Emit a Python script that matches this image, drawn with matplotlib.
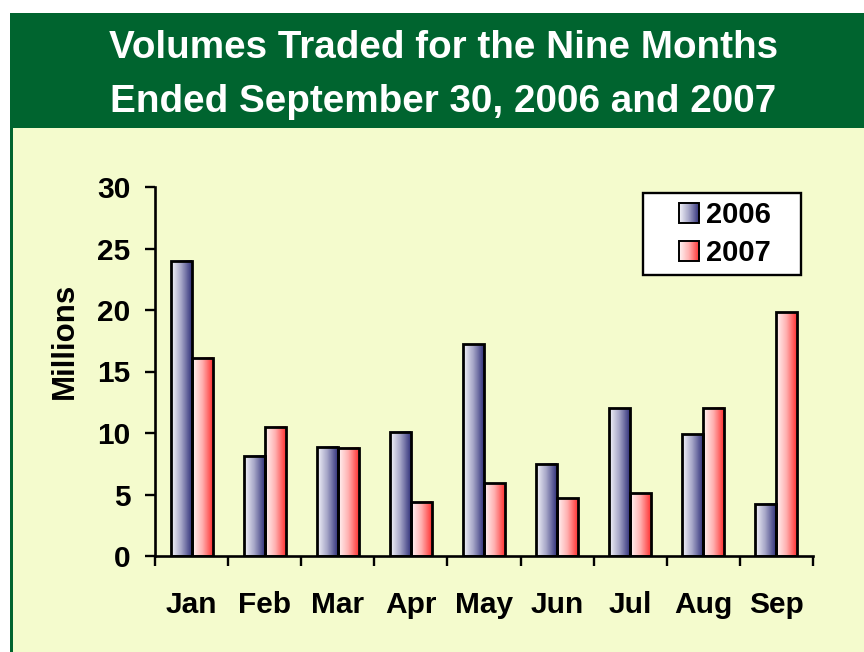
import numpy as np
import matplotlib
matplotlib.use("Agg")
import matplotlib.pyplot as plt
from matplotlib.colors import LinearSegmentedColormap
from matplotlib.patches import Rectangle
from matplotlib.legend_handler import HandlerBase

plt.rcParams['font.family'] = ['Liberation Sans', 'DejaVu Sans']
plt.rcParams['font.weight'] = 'bold'

# data (millions of shares traded)
mesiace = ['Jan', 'Feb', 'Mar', 'Apr', 'May', 'Jun', 'Jul', 'Aug', 'Sep']
objem_2006 = [24.0, 8.15, 8.9, 10.1, 17.2, 7.5, 12.0, 9.9, 4.25]
objem_2007 = [16.1, 10.5, 8.8, 4.4, 5.9, 4.7, 5.1, 12.05, 19.8]
roky = ['2006', '2007']
y_ticky = [0, 5, 10, 15, 20, 25, 30]

ZELENA = '#00642F'
ZLTA = '#F4FBCD'
cm06 = LinearSegmentedColormap.from_list('c06', ['#F6F6FB', '#A4A4C6', '#33337C'])
cm07 = LinearSegmentedColormap.from_list('c07', ['#FFF6F6', '#FFB0B0', '#FF3434'])


class StvorecGradient(HandlerBase):
    # legend square with horizontal gradient, pushed to right side of handle box
    def __init__(self, cmap):
        super().__init__()
        self.cmap = cmap

    def create_artists(self, legend, orig_handle, xdescent, ydescent,
                       width, height, fontsize, trans):
        s = height
        x0 = width - s - xdescent
        y0 = -ydescent
        n = 20
        kusy = []
        for k in range(n):
            kusy.append(Rectangle((x0 + k * s / n, y0), s / n + 0.05, s,
                                  facecolor=self.cmap((k + 0.5) / n),
                                  edgecolor='none', transform=trans))
        kusy.append(Rectangle((x0, y0), s, s, facecolor='none',
                              edgecolor='black', lw=1.4, transform=trans))
        return kusy


fig = plt.figure(figsize=(8.64, 6.52), dpi=100)

# background frame: green header, yellow body, green left edge
fig.patches.append(Rectangle((13 / 864, 0), 1, 1 - 128 / 652, facecolor=ZLTA,
                             edgecolor='none', transform=fig.transFigure, zorder=-10))
fig.patches.append(Rectangle((10 / 864, 1 - 128 / 652), 1, 115 / 652, facecolor=ZELENA,
                             edgecolor='none', transform=fig.transFigure, zorder=-10))
fig.patches.append(Rectangle((10 / 864, 0), 3 / 864, 1 - 13 / 652, facecolor=ZELENA,
                             edgecolor='none', transform=fig.transFigure, zorder=-10))

fig.text(0.513, 1 - 48 / 652, 'Volumes Traded for the Nine Months', color='white',
         fontsize=27.8, fontweight='bold', ha='center', va='center')
fig.text(0.513, 1 - 102 / 652, 'Ended September 30, 2006 and 2007', color='white',
         fontsize=27.8, fontweight='bold', ha='center', va='center')

ax = fig.add_axes([155 / 864, 1 - 556 / 652, 658 / 864, 369 / 652])
ax.set_facecolor('none')

x = np.arange(len(mesiace))
sirka = 0.287
stlpce06 = ax.bar(x - sirka / 2, objem_2006, sirka, facecolor='none',
                  edgecolor='black', linewidth=2.0, zorder=3)
stlpce07 = ax.bar(x + sirka / 2, objem_2007, sirka, facecolor='none',
                  edgecolor='black', linewidth=2.0, zorder=3)

gradient = np.linspace(0, 1, 64).reshape(1, -1)
for stlpce, cm in [(stlpce06, cm06), (stlpce07, cm07)]:
    for b in stlpce:
        x0, y0 = b.get_xy()
        ax.imshow(gradient, cmap=cm, extent=[x0, x0 + b.get_width(), y0, y0 + b.get_height()],
                  aspect='auto', interpolation='bilinear', zorder=2)

ax.set_xlim(-0.5, len(mesiace) - 0.5)
ax.set_ylim(0, 30)

ax.spines['top'].set_visible(False)
ax.spines['right'].set_visible(False)
for s in ['left', 'bottom']:
    ax.spines[s].set_linewidth(1.9)

ax.set_yticks(y_ticky)
ax.tick_params(axis='y', length=7.5, width=1.7, pad=10, labelsize=21.5)
ax.set_xticks(np.arange(len(mesiace) + 1) - 0.5)
ax.set_xticklabels([])
ax.set_xticks(x, minor=True)
ax.set_xticklabels(mesiace, minor=True)
ax.tick_params(axis='x', which='major', length=7.5, width=1.7)
ax.tick_params(axis='x', which='minor', length=0, pad=25, labelsize=21.5)

ax.set_ylabel('Millions', fontsize=22.5, fontweight='bold')
ax.yaxis.set_label_coords(-0.114, 0.583)

h06 = Rectangle((0, 0), 1, 1)
h07 = Rectangle((0, 0), 1, 1)
leg = ax.legend([h06, h07], roky, handler_map={h06: StvorecGradient(cm06), h07: StvorecGradient(cm07)},
                loc='upper left', bbox_to_anchor=(0.7416, 0.759, 0.2402, 0.2247),
                mode='expand', borderaxespad=0, borderpad=0.27, labelspacing=0.35,
                handlelength=1.65, handleheight=0.68, handletextpad=0.25,
                fontsize=21, fancybox=False, framealpha=1, edgecolor='black')
leg.get_frame().set_linewidth(1.7)
leg.set_zorder(5)

fig.savefig('out.png', dpi=100, facecolor='white')
